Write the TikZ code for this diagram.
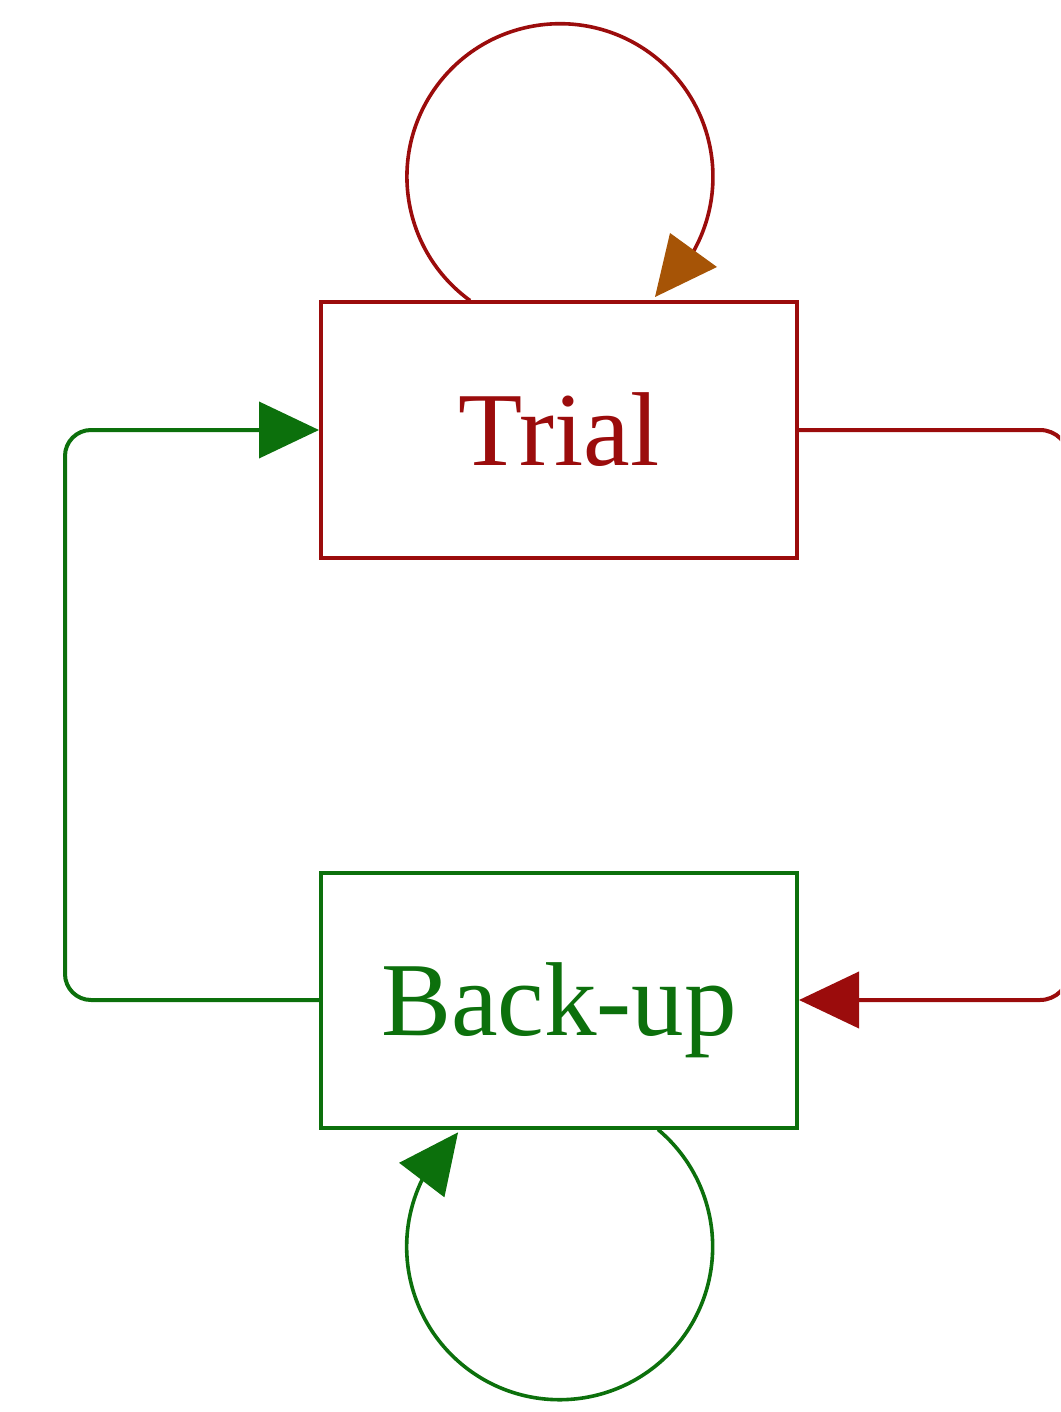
\documentclass[tikz,border=0pt]{standalone}
\usepackage{fontspec}
\setmainfont{Liberation Serif}
\usetikzlibrary{arrows.meta,bending}
\definecolor{tred}{RGB}{155,12,12}
\definecolor{tgreen}{RGB}{12,112,12}
\definecolor{tbrown}{RGB}{166,84,6}
\begin{document}
\begin{tikzpicture}[x=1pt,y=-1pt,
  state/.style={draw, line width=4pt, minimum width=476pt, minimum height=255pt,
    inner sep=0pt, font=\fontsize{105pt}{120pt}\selectfont, text height=70pt, text depth=0pt},
  edge/.style={line width=4pt, rounded corners=26pt},
  tip/.style={-{Triangle[length=60pt,width=56pt]}}]
\useasboundingbox (0,0) rectangle (1060,1412);
\clip (0,0) rectangle (1060,1412);
\node[state, draw=tred, text=tred] (trial) at (559,430) {Trial};
\node[state, draw=tgreen, text=tgreen] (backup) at (559,1000) {Back-up};
% connectors
\draw[edge, rounded corners=29pt, tred, tip] (trial.east) -- ++(270,0) |- (backup.east);
\draw[edge, tgreen, tip] (backup.west) -- ++(-254,0) |- (trial.west);
% self loop on Trial
\draw[tred, line width=3.6pt] (trial.north) ++(-89,0)
  arc[start angle=126, end angle=390, radius=153];
\fill[tbrown] (717,267) -- (670,233) -- (655,297) -- cycle;
% self loop on Back-up
\draw[tgreen, line width=3.6pt, tip] (backup.south) ++(99,0)
  arc[start angle=-50, end angle=228.4, radius=153];
\end{tikzpicture}
\end{document}
